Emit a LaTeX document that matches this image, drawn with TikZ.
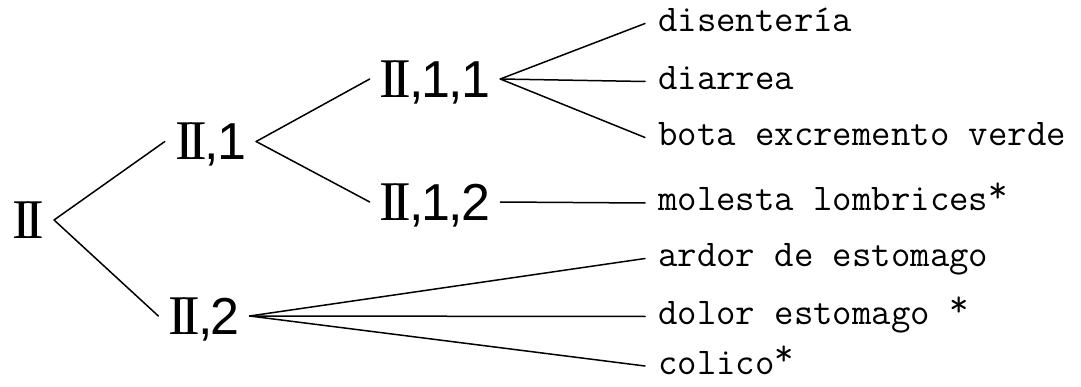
\documentclass[tikz,border=0pt]{standalone}
\usepackage{fontspec}
\newfontfamily\numfont{Liberation Sans}
\newfontfamily\romfont{Liberation Serif}
\usepackage{tikz}
\usetikzlibrary{positioning}
\newcommand{\RII}{{\romfont\fontsize{56}{56}\selectfont I\kern-0.1em I}}
\newcommand{\cm}{\kern-0.04em,\kern-0.04em}
\newcommand{\upstar}{\raisebox{0.22em}{*}}

\begin{document}
\begin{tikzpicture}[
  x=1pt, y=-1pt,
  lbl/.style={inner xsep=10pt, inner ysep=0pt, text height=37pt, text depth=0pt, font=\numfont\fontsize{52}{56}\selectfont},
  leaf/.style={anchor=west, inner xsep=13pt, inner ysep=0pt, text height=24pt, text depth=8pt, font=\ttfamily\fontsize{37.7}{40}\selectfont},
  link/.style={line width=1.5pt, line cap=round}
]
  \useasboundingbox (0,0) rectangle (1081,387);

  \node[lbl] (root) at (28,220) {\RII};
  \node[lbl] (n1) at (210.5,141.5) {\RII\cm1};
  \node[lbl] (n2) at (204,316) {\RII\cm2};
  \node[lbl] (n11) at (435,79) {\RII\cm1\cm1};
  \node[lbl] (n12) at (435,202) {\RII\cm1\cm2};

  \foreach \nm/\yy/\txt in {d1/23.5/disentería, d2/81.5/diarrea, d3/137.5/bota excremento verde,
      m1/203/molesta lombrices\upstar, a1/258.5/ardor de estomago, a2/316.5/dolor estomago \upstar, a3/366/colico\upstar}{
    \node[leaf] (\nm) at (645,\yy) {\txt};
  }

  \draw[link] (root.east) -- (n1.west);
  \draw[link] (root.east) -- (n2.west);
  \draw[link] (n1.east) -- (n11.west);
  \draw[link] (n1.east) -- (n12.west);
  \foreach \nm in {d1,d2,d3}
    \draw[link] (n11.east) -- (\nm.west);
  \draw[link] (n12.east) -- (m1.west);
  \foreach \nm in {a1,a2,a3}
    \draw[link] (n2.east) -- (\nm.west);
\end{tikzpicture}
\end{document}
